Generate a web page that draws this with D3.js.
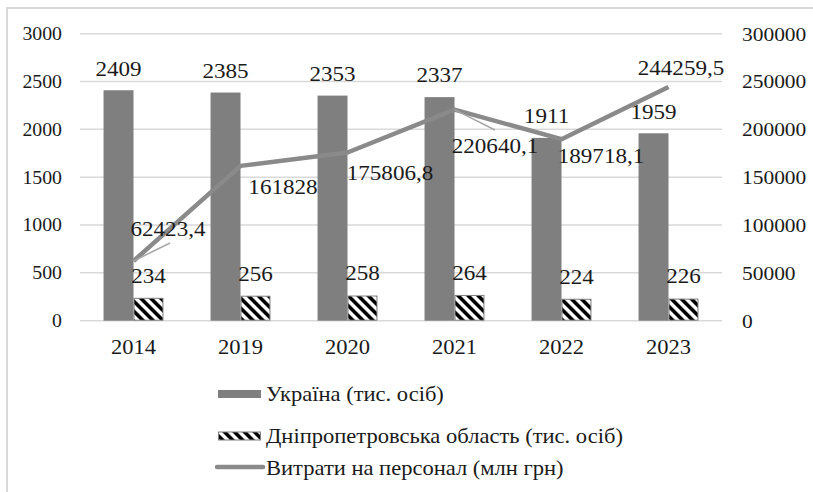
<!DOCTYPE html>
<html><head><meta charset="utf-8">
<script src="https://cdn.jsdelivr.net/npm/d3@7"></script>
<style>
html,body{margin:0;padding:0;background:#fff;}
</style></head>
<body><svg id="c" width="813" height="492" font-family="'Liberation Serif', 'Times New Roman', serif"></svg>
<script>
// ---- data ----
const years = ["2014","2019","2020","2021","2022","2023"];
const ukraine = [2409, 2385, 2353, 2337, 1911, 1959];
const dnipro = [234, 256, 258, 264, 224, 226];
const expenses = [62423.4, 161828, 175806.8, 220640.1, 189718.1, 244259.5];
const leftTicks = [0, 500, 1000, 1500, 2000, 2500, 3000];
const rightTicks = [0, 50000, 100000, 150000, 200000, 250000, 300000];
const seriesNames = ["Україна (тис. осіб)", "Дніпропетровська область (тис. осіб)", "Витрати на персонал (млн грн)"];

// ---- layout (label placement offsets, relative to points) ----
const lineLabelOffsets = [[34.5,-32],[42.5,21],[42.5,20.5],[40.5,36.4],[39.5,16],[12.5,-19]];
const leaderOffsets = [[36.5,-18], null, null, [40.5,20.4], null, null];

const svg = d3.select("#c");
const plot = {left:80, right:722, top:33.7, bottom:320.7};
const textColor = "#1a1a1a";
const SX = 1.1; // horizontal text stretch seen in the reference
const place = (sel, xf, yf) => sel.attr("transform", (d,i)=>`translate(${xf(d,i)},${yf(d,i)}) scale(${SX},1)`);

// border
svg.append("rect").attr("x",7).attr("y",8).attr("width",900).attr("height",600)
  .attr("fill","none").attr("stroke","#d9d9d9").attr("stroke-width",2);

// hatch pattern
const defs = svg.append("defs");
const pat = defs.append("pattern").attr("id","hatch").attr("patternUnits","userSpaceOnUse")
  .attr("width",7.07).attr("height",10).attr("patternTransform","rotate(-45)");
pat.append("rect").attr("width",7.07).attr("height",10).attr("fill","#fff");
pat.append("rect").attr("x",0).attr("width",3.6).attr("height",10).attr("fill","#000");

const x0 = d3.scaleBand().domain(years).range([plot.left, plot.right]).paddingInner(0.44).paddingOuter(0.22);
const x1 = d3.scaleBand().domain(["ua","dn"]).range([0, x0.bandwidth()]);
const yL = d3.scaleLinear().domain([0,3000]).range([plot.bottom, plot.top]);
const yR = d3.scaleLinear().domain([0,300000]).range([plot.bottom, plot.top]);

// gridlines
svg.append("g").selectAll("line").data(leftTicks).join("line")
  .attr("x1",plot.left).attr("x2",plot.right)
  .attr("y1",d=>yL(d)).attr("y2",d=>yL(d))
  .attr("stroke","#d9d9d9").attr("stroke-width",1.5);

// left axis labels
place(svg.append("g").selectAll("text").data(leftTicks).join("text")
  .attr("dy","0.35em").attr("text-anchor","end")
  .attr("font-size",18).attr("fill",textColor).text(d=>d), ()=>62, d=>yL(d));
// right axis labels
place(svg.append("g").selectAll("text").data(rightTicks).join("text")
  .attr("dy","0.35em").attr("text-anchor","start")
  .attr("font-size",19.5).attr("fill",textColor).text(d=>d), ()=>742, d=>yR(d));
// x labels
place(svg.append("g").selectAll("text").data(years).join("text")
  .attr("dy","0.35em").attr("text-anchor","middle").attr("font-size",20.5).attr("fill",textColor).text(d=>d),
  d=>x0(d)+x0.bandwidth()/2, ()=>347);

// bars
const gBars = svg.append("g");
gBars.selectAll("rect.ua").data(years).join("rect").attr("class","ua")
  .attr("x",d=>x0(d)+x1("ua")).attr("width",x1.bandwidth())
  .attr("y",(d,i)=>yL(ukraine[i])).attr("height",(d,i)=>yL(0)-yL(ukraine[i]))
  .attr("fill","#7f7f7f");
gBars.selectAll("rect.dn").data(years).join("rect").attr("class","dn")
  .attr("x",d=>x0(d)+x1("dn")+0.5).attr("width",x1.bandwidth()-1)
  .attr("y",(d,i)=>yL(dnipro[i])).attr("height",(d,i)=>yL(0)-yL(dnipro[i])-0.5)
  .attr("fill","url(#hatch)").attr("stroke","#7f7f7f").attr("stroke-width",1);

// line
const px = d => x0(d)+x0.bandwidth()/2;
const line = d3.line().x((d,i)=>px(years[i])).y(d=>yR(d));
svg.append("path").datum(expenses).attr("d",line)
  .attr("fill","none").attr("stroke","#8a8a8a").attr("stroke-width",4.5).attr("stroke-linejoin","round");

// leader lines
svg.append("g").selectAll("line").data(expenses.map((v,i)=>({v,i})).filter(d=>leaderOffsets[d.i])).join("line")
  .attr("x1",d=>px(years[d.i])).attr("y1",d=>yR(d.v))
  .attr("x2",d=>px(years[d.i])+leaderOffsets[d.i][0]).attr("y2",d=>yR(d.v)+leaderOffsets[d.i][1])
  .attr("stroke","#a6a6a6").attr("stroke-width",1.5);

// data labels
const fmt = v => String(v).replace(".", ",");
place(svg.append("g").selectAll("text").data(ukraine).join("text")
  .attr("dy","0.35em").attr("text-anchor","middle").attr("font-size",21).attr("fill",textColor).text(d=>d),
  (d,i)=>x0(years[i])+x1("ua")+x1.bandwidth()/2, d=>yL(d)-22);
place(svg.append("g").selectAll("text").data(dnipro).join("text")
  .attr("dy","0.35em").attr("text-anchor","middle").attr("font-size",21).attr("fill",textColor).text(d=>d),
  (d,i)=>x0(years[i])+x1("dn")+x1.bandwidth()/2, d=>yL(d)-23);
place(svg.append("g").selectAll("text").data(expenses).join("text")
  .attr("dy","0.35em").attr("text-anchor","middle").attr("font-size",21).attr("fill",textColor).text(d=>fmt(d)),
  (d,i)=>px(years[i])+lineLabelOffsets[i][0], (d,i)=>yR(d)+lineLabelOffsets[i][1]);

// legend
const lg = svg.append("g");
const rows = [394, 436, 468];
lg.append("rect").attr("x",218).attr("y",rows[0]-4).attr("width",43).attr("height",8).attr("fill","#7f7f7f");
lg.append("rect").attr("x",218.5).attr("y",rows[1]-4).attr("width",42).attr("height",8)
  .attr("fill","url(#hatch)").attr("stroke","#7f7f7f").attr("stroke-width",1);
lg.append("line").attr("x1",217).attr("x2",263).attr("y1",rows[2]-1).attr("y2",rows[2]-1)
  .attr("stroke","#8a8a8a").attr("stroke-width",4.5).attr("stroke-linecap","round");
place(lg.selectAll("text").data(seriesNames).join("text")
  .attr("dy","0.35em").attr("font-size",20.5).attr("fill",textColor).text(d=>d),
  ()=>266, (d,i)=>rows[i]);
</script></body></html>
